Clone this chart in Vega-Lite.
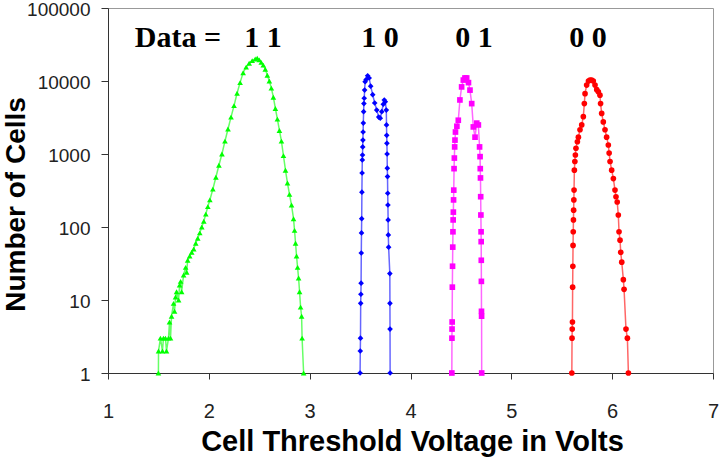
{
"$schema": "https://vega.github.io/schema/vega-lite/v6.json",
"width": 605, "height": 365,
"autosize": "none",
"padding": {"left": 108, "top": 8, "right": 9, "bottom": 90},
"background": "white",
"config": {"view": {"stroke": "#999", "strokeWidth": 1}, "font": "Liberation Sans"},
"datasets": {
"curves": [
{"s":"11","v":1.500,"n":1},{"s":"11","v":1.501,"n":2},{"s":"11","v":1.52,"n":3},{"s":"11","v":1.54,"n":2},{"s":"11","v":1.55,"n":3},{"s":"11","v":1.57,"n":3},{"s":"11","v":1.58,"n":2},{"s":"11","v":1.60,"n":3},{"s":"11","v":1.61,"n":5},{"s":"11","v":1.62,"n":3},{"s":"11","v":1.63,"n":6},{"s":"11","v":1.65,"n":9},{"s":"11","v":1.66,"n":7},{"s":"11","v":1.67,"n":11},{"s":"11","v":1.68,"n":13},{"s":"11","v":1.70,"n":10},{"s":"11","v":1.71,"n":16},{"s":"11","v":1.72,"n":18},{"s":"11","v":1.73,"n":13},{"s":"11","v":1.75,"n":22},{"s":"11","v":1.77,"n":28},{"s":"11","v":1.78,"n":24},{"s":"11","v":1.79,"n":35},{"s":"11","v":1.81,"n":40},{"s":"11","v":1.83,"n":45},{"s":"11","v":1.85,"n":50},{"s":"11","v":1.87,"n":60},{"s":"11","v":1.89,"n":70},{"s":"11","v":1.91,"n":83},{"s":"11","v":1.93,"n":100},{"s":"11","v":1.95,"n":120},{"s":"11","v":1.97,"n":150},{"s":"11","v":1.99,"n":190},{"s":"11","v":2.01,"n":235},{"s":"11","v":2.04,"n":330},{"s":"11","v":2.07,"n":480},{"s":"11","v":2.10,"n":700},{"s":"11","v":2.13,"n":1000},{"s":"11","v":2.16,"n":1500},{"s":"11","v":2.19,"n":2200},{"s":"11","v":2.22,"n":3200},{"s":"11","v":2.25,"n":4600},{"s":"11","v":2.28,"n":6800},{"s":"11","v":2.31,"n":9500},{"s":"11","v":2.34,"n":13000},{"s":"11","v":2.37,"n":15500},{"s":"11","v":2.40,"n":17500},{"s":"11","v":2.43,"n":19000},{"s":"11","v":2.46,"n":20000},{"s":"11","v":2.48,"n":20500},{"s":"11","v":2.50,"n":19500},{"s":"11","v":2.52,"n":18000},{"s":"11","v":2.54,"n":16500},{"s":"11","v":2.56,"n":14500},{"s":"11","v":2.58,"n":12000},{"s":"11","v":2.60,"n":10000},{"s":"11","v":2.62,"n":8000},{"s":"11","v":2.64,"n":6000},{"s":"11","v":2.66,"n":4200},{"s":"11","v":2.68,"n":3000},{"s":"11","v":2.70,"n":2100},{"s":"11","v":2.72,"n":1500},{"s":"11","v":2.74,"n":950},{"s":"11","v":2.76,"n":600},{"s":"11","v":2.78,"n":400},{"s":"11","v":2.80,"n":280},{"s":"11","v":2.82,"n":200},{"s":"11","v":2.84,"n":130},{"s":"11","v":2.85,"n":90},{"s":"11","v":2.86,"n":60},{"s":"11","v":2.87,"n":40},{"s":"11","v":2.88,"n":28},{"s":"11","v":2.89,"n":20},{"s":"11","v":2.90,"n":13},{"s":"11","v":2.91,"n":8},{"s":"11","v":2.92,"n":6},{"s":"11","v":2.925,"n":3},{"s":"11","v":2.94,"n":1},
{"s":"10","v":3.500,"n":1},{"s":"10","v":3.502,"n":2},{"s":"10","v":3.504,"n":3},{"s":"10","v":3.506,"n":9},{"s":"10","v":3.508,"n":12},{"s":"10","v":3.510,"n":17},{"s":"10","v":3.512,"n":44},{"s":"10","v":3.514,"n":83},{"s":"10","v":3.516,"n":130},{"s":"10","v":3.518,"n":300},{"s":"10","v":3.520,"n":550},{"s":"10","v":3.522,"n":830},{"s":"10","v":3.524,"n":970},{"s":"10","v":3.526,"n":1250},{"s":"10","v":3.528,"n":1550},{"s":"10","v":3.530,"n":2000},{"s":"10","v":3.532,"n":2650},{"s":"10","v":3.535,"n":3800},{"s":"10","v":3.538,"n":4900},{"s":"10","v":3.541,"n":5800},{"s":"10","v":3.545,"n":7500},{"s":"10","v":3.550,"n":9800},{"s":"10","v":3.560,"n":10500},{"s":"10","v":3.575,"n":11800},{"s":"10","v":3.590,"n":11000},{"s":"10","v":3.605,"n":8500},{"s":"10","v":3.625,"n":6500},{"s":"10","v":3.645,"n":5000},{"s":"10","v":3.665,"n":4000},{"s":"10","v":3.685,"n":3200},{"s":"10","v":3.700,"n":3100},{"s":"10","v":3.715,"n":3800},{"s":"10","v":3.730,"n":4800},{"s":"10","v":3.740,"n":5500},{"s":"10","v":3.750,"n":5200},{"s":"10","v":3.760,"n":4000},{"s":"10","v":3.762,"n":2500},{"s":"10","v":3.764,"n":1800},{"s":"10","v":3.766,"n":1400},{"s":"10","v":3.768,"n":1000},{"s":"10","v":3.770,"n":640},{"s":"10","v":3.772,"n":490},{"s":"10","v":3.774,"n":290},{"s":"10","v":3.776,"n":200},{"s":"10","v":3.778,"n":125},{"s":"10","v":3.780,"n":78},{"s":"10","v":3.783,"n":53},{"s":"10","v":3.795,"n":23},{"s":"10","v":3.796,"n":9},{"s":"10","v":3.797,"n":4},{"s":"10","v":3.798,"n":1},
{"s":"01","v":4.410,"n":1},{"s":"01","v":4.411,"n":3},{"s":"01","v":4.412,"n":4},{"s":"01","v":4.413,"n":5},{"s":"01","v":4.415,"n":15},{"s":"01","v":4.417,"n":29},{"s":"01","v":4.419,"n":53},{"s":"01","v":4.421,"n":86},{"s":"01","v":4.423,"n":125},{"s":"01","v":4.425,"n":160},{"s":"01","v":4.427,"n":235},{"s":"01","v":4.429,"n":320},{"s":"01","v":4.432,"n":630},{"s":"01","v":4.435,"n":880},{"s":"01","v":4.438,"n":1250},{"s":"01","v":4.441,"n":1550},{"s":"01","v":4.446,"n":2000},{"s":"01","v":4.460,"n":2400},{"s":"01","v":4.474,"n":2900},{"s":"01","v":4.490,"n":5500},{"s":"01","v":4.507,"n":8300},{"s":"01","v":4.524,"n":10300},{"s":"01","v":4.540,"n":11000},{"s":"01","v":4.557,"n":11000},{"s":"01","v":4.575,"n":9500},{"s":"01","v":4.590,"n":7500},{"s":"01","v":4.607,"n":4900},{"s":"01","v":4.623,"n":2350},{"s":"01","v":4.640,"n":1700},{"s":"01","v":4.657,"n":2650},{"s":"01","v":4.673,"n":2500},{"s":"01","v":4.685,"n":1250},{"s":"01","v":4.690,"n":920},{"s":"01","v":4.692,"n":630},{"s":"01","v":4.694,"n":470},{"s":"01","v":4.696,"n":260},{"s":"01","v":4.698,"n":146},{"s":"01","v":4.700,"n":86},{"s":"01","v":4.701,"n":63},{"s":"01","v":4.702,"n":35},{"s":"01","v":4.703,"n":18},{"s":"01","v":4.704,"n":7},{"s":"01","v":4.705,"n":6},{"s":"01","v":4.706,"n":1},
{"s":"00","v":5.600,"n":1},{"s":"00","v":5.602,"n":3},{"s":"00","v":5.604,"n":4},{"s":"00","v":5.606,"n":5},{"s":"00","v":5.608,"n":15},{"s":"00","v":5.610,"n":29},{"s":"00","v":5.612,"n":56},{"s":"00","v":5.614,"n":86},{"s":"00","v":5.616,"n":125},{"s":"00","v":5.618,"n":170},{"s":"00","v":5.620,"n":235},{"s":"00","v":5.622,"n":320},{"s":"00","v":5.625,"n":600},{"s":"00","v":5.630,"n":790},{"s":"00","v":5.635,"n":970},{"s":"00","v":5.641,"n":1200},{"s":"00","v":5.655,"n":1470},{"s":"00","v":5.665,"n":1700},{"s":"00","v":5.681,"n":2150},{"s":"00","v":5.698,"n":2500},{"s":"00","v":5.714,"n":3250},{"s":"00","v":5.724,"n":4900},{"s":"00","v":5.731,"n":6700},{"s":"00","v":5.747,"n":8800},{"s":"00","v":5.765,"n":10000},{"s":"00","v":5.780,"n":10300},{"s":"00","v":5.797,"n":10300},{"s":"00","v":5.813,"n":10000},{"s":"00","v":5.830,"n":8800},{"s":"00","v":5.847,"n":7600},{"s":"00","v":5.863,"n":7100},{"s":"00","v":5.879,"n":6400},{"s":"00","v":5.885,"n":4900},{"s":"00","v":5.896,"n":3600},{"s":"00","v":5.912,"n":2750},{"s":"00","v":5.929,"n":2150},{"s":"00","v":5.945,"n":1700},{"s":"00","v":5.962,"n":1330},{"s":"00","v":5.970,"n":1030},{"s":"00","v":5.979,"n":790},{"s":"00","v":5.995,"n":600},{"s":"00","v":6.012,"n":460},{"s":"00","v":6.028,"n":320},{"s":"00","v":6.038,"n":260},{"s":"00","v":6.050,"n":220},{"s":"00","v":6.061,"n":146},{"s":"00","v":6.068,"n":86},{"s":"00","v":6.078,"n":66},{"s":"00","v":6.085,"n":45},{"s":"00","v":6.095,"n":33},{"s":"00","v":6.111,"n":19},{"s":"00","v":6.118,"n":14},{"s":"00","v":6.137,"n":4},{"s":"00","v":6.151,"n":3},{"s":"00","v":6.161,"n":1}
],
"labels": [
{"t":"Data =","v":1.694,"n":29500},
{"t":"1 1","v":2.537,"n":29500},
{"t":"1 0","v":3.698,"n":29500},
{"t":"0 1","v":4.630,"n":29500},
{"t":"0 0","v":5.760,"n":29500}
]
},
"encoding": {
"x": {"field":"v","type":"quantitative",
 "scale":{"domain":[1,7],"nice":false,"zero":false},
 "axis":{"values":[1,2,3,4,5,6,7],"format":"d","grid":false,"domainColor":"#333","tickColor":"#333","tickSize":6,"labelFontSize":20,"labelColor":"#222","labelPadding":22,"labelFlush":false,"labelOverlap":false,
  "title":"Cell Threshold Voltage in Volts","titleFontSize":29,"titleFontWeight":"bold","titleColor":"#000","titleX":304,"titleY":77,"titleBaseline":"alphabetic","titleAlign":"center"}},
"y": {"field":"n","type":"quantitative",
 "scale":{"type":"log","domain":[1,100000],"nice":false},
 "axis":{"values":[1,10,100,1000,10000,100000],"format":"d","grid":false,"domainColor":"#333","tickColor":"#333","tickSize":7,"labelFontSize":19,"labelColor":"#222","labelPadding":11,"labelOffset":1,"labelFlush":false,"labelOverlap":false,
  "title":"Number of Cells","titleFontSize":28,"titleFontWeight":"bold","titleColor":"#000","titleX":-84,"titleY":196,"titleAngle":270,"titleBaseline":"alphabetic","titleAlign":"center"}}
},
"layer": [
{"data":{"name":"curves"},
 "mark":{"type":"line","strokeWidth":1.5,"opacity":0.6},
 "encoding":{"color":{"field":"s","type":"nominal","scale":{"domain":["11","10","01","00"],"range":["#00FF00","#0000FF","#FF00FF","#FF0000"]},"legend":null}}},
{"data":{"name":"curves"},
 "mark":{"type":"point","filled":true,"opacity":1,"size":32},
 "encoding":{
  "color":{"field":"s","type":"nominal","scale":{"domain":["11","10","01","00"],"range":["#00FF00","#0000FF","#FF00FF","#FF0000"]},"legend":null},
  "shape":{"field":"s","type":"nominal","scale":{"domain":["11","10","01","00"],"range":["triangle-up","diamond","square","circle"]},"legend":null}}},
{"data":{"name":"labels"},
 "mark":{"type":"text","font":"Liberation Serif","fontWeight":"bold","fontSize":30,"baseline":"alphabetic","align":"center","color":"#000"},
 "encoding":{"text":{"field":"t","type":"nominal"}}}
]
}
